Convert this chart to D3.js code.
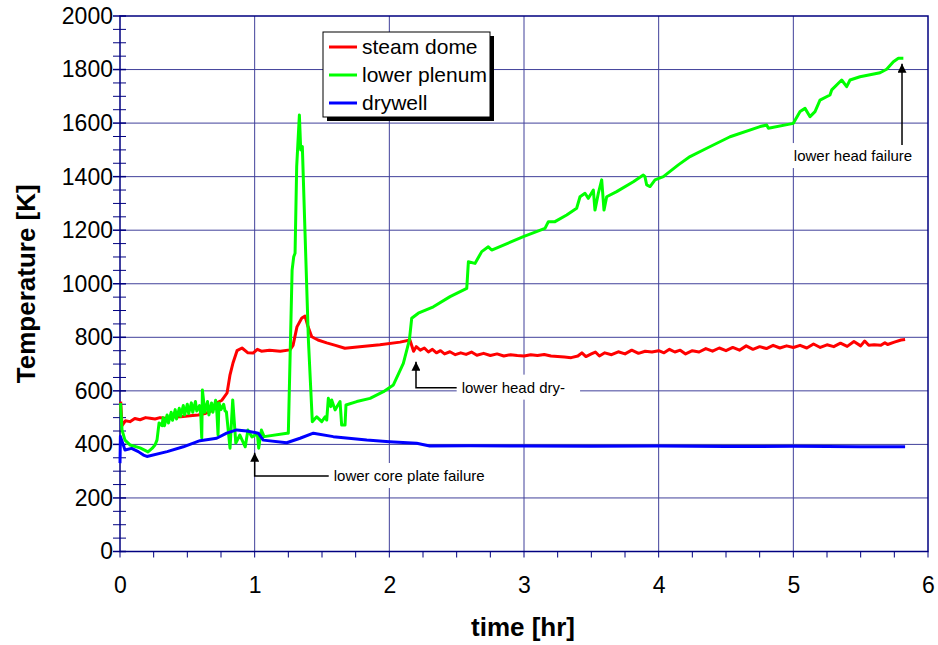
<!DOCTYPE html>
<html>
<head>
<meta charset="utf-8">
<script src="https://cdn.jsdelivr.net/npm/d3@7"></script>
<style>
  body { margin: 0; background: #fff; }
  svg { font-family: "Liberation Sans", Arial, sans-serif; }
</style>
</head>
<body>
<svg id="chart" width="938" height="645"></svg>
<script>
// series: [time (hr), temperature (K)]
let steamDome = [
  [0.005, 560], [0.015, 470], [0.04, 488], [0.074, 485], [0.11, 497], [0.149, 492], [0.19, 500], [0.223, 498],
  [0.26, 495], [0.297, 500], [0.34, 498], [0.371, 502], [0.45, 503], [0.52, 507], [0.58, 510], [0.63, 515],
  [0.68, 525], [0.72, 555], [0.757, 565], [0.795, 592], [0.817, 660], [0.839, 704], [0.869, 750], [0.906, 760],
  [0.95, 742], [0.988, 741], [1.02, 755], [1.05, 748], [1.11, 752], [1.19, 748], [1.262, 753], [1.285, 770],
  [1.314, 839], [1.35, 872], [1.374, 879], [1.396, 840], [1.424, 802], [1.47, 790], [1.535, 779], [1.6, 770],
  [1.67, 759], [1.78, 765], [1.93, 772], [2.08, 782], [2.153, 790],
  [2.18, 748], [2.2, 765], [2.23, 752], [2.26, 760], [2.29, 745], [2.32, 755], [2.35, 742], [2.38, 750],
  [2.41, 738], [2.45, 746], [2.49, 735], [2.53, 742], [2.57, 736], [2.61, 745], [2.65, 733], [2.7, 740],
  [2.75, 732], [2.8, 738], [2.85, 730], [2.9, 735], [2.95, 732], [3.0, 730], [3.05, 735], [3.1, 732],
  [3.15, 736], [3.2, 730], [3.25, 728], [3.3, 726], [3.35, 724], [3.4, 730], [3.43, 742], [3.46, 728],
  [3.5, 738], [3.53, 745], [3.56, 730], [3.6, 742], [3.65, 735], [3.7, 746], [3.75, 738], [3.8, 752],
  [3.85, 740], [3.9, 748], [3.95, 745], [4.0, 750], [4.04, 742], [4.08, 755], [4.12, 745], [4.16, 752],
  [4.2, 738], [4.25, 750], [4.3, 745], [4.35, 758], [4.4, 748], [4.45, 760], [4.5, 750], [4.55, 762],
  [4.6, 752], [4.65, 768], [4.7, 755], [4.75, 765], [4.8, 758], [4.85, 770], [4.9, 760], [4.95, 768],
  [5.0, 762], [5.05, 770], [5.1, 760], [5.15, 775], [5.2, 762], [5.25, 772], [5.3, 765], [5.35, 778],
  [5.4, 766], [5.45, 784], [5.5, 768], [5.53, 786], [5.56, 770], [5.6, 772], [5.65, 770], [5.68, 780],
  [5.7, 773], [5.75, 782], [5.8, 790], [5.83, 792]
];

let lowerPlenum = [
  [0.004, 554], [0.015, 454], [0.037, 416], [0.074, 398], [0.149, 387], [0.208, 372], [0.238, 385],
  [0.26, 398], [0.275, 417], [0.29, 480], [0.312, 470], [0.32, 500], [0.33, 470], [0.35, 510], [0.36, 480],
  [0.38, 520], [0.39, 490], [0.41, 530], [0.42, 495], [0.44, 535], [0.45, 505], [0.47, 545], [0.48, 510],
  [0.5, 550], [0.51, 515], [0.53, 555], [0.54, 520], [0.56, 560], [0.57, 525], [0.59, 545], [0.6, 510],
  [0.607, 424], [0.612, 603], [0.63, 520], [0.65, 560], [0.66, 510], [0.68, 555], [0.69, 520], [0.71, 565],
  [0.72, 515], [0.728, 435], [0.735, 555], [0.75, 530], [0.77, 550], [0.78, 525], [0.79, 522], [0.817, 386],
  [0.837, 566], [0.86, 405], [0.89, 435], [0.93, 391], [0.95, 454], [0.98, 428], [1.02, 440], [1.03, 386],
  [1.05, 454], [1.07, 429], [1.24, 442], [1.25, 442], [1.278, 1051], [1.29, 1101], [1.3, 1114], [1.312, 1437],
  [1.332, 1630], [1.342, 1500], [1.354, 1512], [1.374, 1189], [1.399, 790], [1.428, 485], [1.461, 503],
  [1.498, 485], [1.523, 503], [1.535, 491], [1.547, 572], [1.565, 541], [1.572, 566], [1.597, 529],
  [1.634, 560], [1.646, 472], [1.671, 472], [1.678, 547], [1.758, 560], [1.857, 572], [1.956, 597],
  [2.03, 622], [2.104, 703], [2.149, 790], [2.166, 871], [2.215, 890], [2.327, 914], [2.451, 952],
  [2.575, 983], [2.587, 1082], [2.636, 1076], [2.686, 1120], [2.735, 1138], [2.76, 1126], [2.995, 1176],
  [3.156, 1207], [3.181, 1232], [3.23, 1232], [3.317, 1257], [3.391, 1282], [3.416, 1325], [3.453, 1338],
  [3.478, 1319], [3.515, 1350], [3.527, 1275], [3.552, 1338], [3.577, 1388], [3.594, 1275], [3.614, 1325],
  [3.688, 1344], [3.812, 1381], [3.886, 1406], [3.898, 1400], [3.911, 1369], [3.936, 1363], [3.973, 1388],
  [4.035, 1400], [4.146, 1444], [4.233, 1475], [4.357, 1506], [4.53, 1549], [4.753, 1587], [4.802, 1593],
  [4.815, 1581], [5.0, 1599], [5.05, 1643], [5.087, 1655], [5.124, 1624], [5.161, 1643], [5.198, 1686],
  [5.272, 1705], [5.285, 1724], [5.359, 1761], [5.396, 1736], [5.421, 1761], [5.495, 1773], [5.644, 1788],
  [5.693, 1801], [5.743, 1829], [5.78, 1842], [5.817, 1842]
];

let drywell = [
  [0, 330], [0.003, 430], [0.037, 379], [0.086, 385], [0.136, 373], [0.174, 360], [0.2, 355], [0.35, 373],
  [0.47, 391], [0.594, 414], [0.718, 423], [0.792, 442], [0.866, 454], [0.94, 450], [1.027, 442],
  [1.064, 416], [1.238, 406], [1.337, 423], [1.436, 442], [1.584, 429], [1.832, 416], [2.0, 410],
  [2.203, 404], [2.3, 394], [2.6, 395], [3.0, 394], [3.5, 393], [4.0, 394], [4.5, 392], [5.0, 393],
  [5.5, 391], [5.83, 391]
];

let seriesNames = ['steam dome', 'lower plenum', 'drywell'];
let seriesColors = ['#ff0000', '#00ff00', '#0000ff'];

let xTicks = [0, 1, 2, 3, 4, 5, 6];
let yTicks = [0, 200, 400, 600, 800, 1000, 1200, 1400, 1600, 1800, 2000];

// annotations: arrow at t, tip value, base value, elbow end t, label
let notes = [
  { t: 1.0, tip: 369, base: 282, end: 1.55, text: 'lower core plate failure' },
  { t: 2.198, tip: 709, base: 612, end: 2.5, text: 'lower head dry-' },
  { t: 5.807, tip: 1822, base: 1518, end: null, text: 'lower head failure' }
];

let svg = d3.select('#chart');
let mLeft = 120, mRight = 928, mTop = 16, mBottom = 551.5;

let x = d3.scaleLinear().domain([0, 6]).range([mLeft, mRight]);
let y = d3.scaleLinear().domain([0, 2000]).range([mBottom, mTop]);

let gridColor = '#40409a';
let axisColor = '#000080';

// grid
svg.append('g').selectAll('line').data(yTicks.slice(1, -1)).enter()
    .append('line')
    .attr('x1', mLeft).attr('x2', mRight)
    .attr('y1', d => y(d)).attr('y2', d => y(d))
    .attr('stroke', gridColor).attr('stroke-width', 1);
svg.append('g').selectAll('line').data(xTicks.slice(1, -1)).enter()
    .append('line')
    .attr('y1', mTop).attr('y2', mBottom)
    .attr('x1', d => x(d)).attr('x2', d => x(d))
    .attr('stroke', gridColor).attr('stroke-width', 1);

// annotation label boxes (hide grid behind text)
let noteG = svg.append('g');

// y axis: ticks cross the axis line
let yAxis = d3.axisLeft(y).tickValues(yTicks).tickSize(0).tickPadding(7).tickFormat(d3.format('d'));
let yg = svg.append('g').attr('transform', `translate(${mLeft},0)`).call(yAxis);
yg.select('.domain').remove();
yg.selectAll('text').attr('font-size', 23).attr('fill', '#000')
    .attr('font-family', '"Liberation Sans", Arial, sans-serif');
let yMinor = d3.range(0, 2001, 50);
svg.append('g').selectAll('line').data(yMinor).enter()
    .append('line')
    .attr('x1', mLeft - 7).attr('x2', mLeft + 6)
    .attr('y1', d => y(d)).attr('y2', d => y(d))
    .attr('stroke', axisColor).attr('stroke-width', d => d % 200 == 0 ? 1.5 : 1);

// x axis
let xAxis = d3.axisBottom(x).tickValues(xTicks).tickSize(0).tickPadding(25).tickFormat(d3.format('d'));
let xg = svg.append('g').attr('transform', `translate(0,${mBottom})`).call(xAxis);
xg.select('.domain').remove();
xg.selectAll('text').attr('font-size', 23).attr('fill', '#000')
    .attr('font-family', '"Liberation Sans", Arial, sans-serif');
let xMinor = d3.range(0, 6.01, 0.25);
svg.append('g').selectAll('line').data(xMinor).enter()
    .append('line')
    .attr('x1', d => x(d)).attr('x2', d => x(d))
    .attr('y1', mBottom).attr('y2', mBottom + 6)
    .attr('stroke', axisColor).attr('stroke-width', 1);

// plot frame
svg.append('rect')
    .attr('x', mLeft).attr('y', mTop)
    .attr('width', mRight - mLeft).attr('height', mBottom - mTop)
    .attr('fill', 'none').attr('stroke', axisColor).attr('stroke-width', 1.5);

// axis titles
svg.append('text')
    .attr('x', 523).attr('y', 636)
    .attr('text-anchor', 'middle').attr('font-size', 26).attr('font-weight', 'bold')
    .text('time [hr]');
svg.append('text')
    .attr('transform', `translate(35,${(mTop + mBottom) / 2}) rotate(-90)`)
    .attr('text-anchor', 'middle').attr('font-size', 26).attr('font-weight', 'bold')
    .text('Temperature [K]');

// lines
let line = d3.line().x(d => x(d[0])).y(d => y(d[1]));
let allSeries = [steamDome, lowerPlenum, drywell];
svg.append('g').selectAll('path').data(allSeries).enter()
    .append('path')
    .attr('d', d => line(d))
    .attr('fill', 'none')
    .attr('stroke', (d, i) => seriesColors[i])
    .attr('stroke-width', 3)
    .attr('stroke-linejoin', 'round');

// annotations
svg.append('defs').append('marker')
    .attr('id', 'arrow').attr('viewBox', '0 0 10 10')
    .attr('refX', 10).attr('refY', 5)
    .attr('markerWidth', 11).attr('markerHeight', 9)
    .attr('markerUnits', 'userSpaceOnUse')
    .attr('orient', 'auto')
    .append('path').attr('d', 'M0,0 L10,5 L0,10 z').attr('fill', '#000');

notes.forEach(n => {
    let pts = [];
    if (n.end != null) pts.push([x(n.end), y(n.base)]);
    pts.push([x(n.t), y(n.base)]);
    pts.push([x(n.t), y(n.tip)]);
    let g = svg.append('g');
    let txt;
    if (n.end != null) {
        txt = g.append('text').attr('x', x(n.end) + 5).attr('y', y(n.base) + 5)
            .attr('font-size', 15).text(n.text);
    } else {
        txt = g.append('text').attr('x', x(n.t) - 49).attr('y', y(n.base) + 16)
            .attr('text-anchor', 'middle').attr('font-size', 15).text(n.text);
    }
    let bb = txt.node().getBBox();
    noteG.append('rect')
        .attr('x', bb.x - 5).attr('y', bb.y - 4)
        .attr('width', bb.width + 20).attr('height', bb.height + 8)
        .attr('fill', '#fff');
    g.append('path')
        .attr('d', d3.line()(pts))
        .attr('fill', 'none').attr('stroke', '#000').attr('stroke-width', 1.5)
        .attr('marker-end', 'url(#arrow)');
});

// legend
let lg = svg.append('g').attr('transform', 'translate(323,32)');
lg.append('rect').attr('x', 4).attr('y', 4).attr('width', 167).attr('height', 85).attr('fill', '#000');
lg.append('rect').attr('x', 0).attr('y', 0).attr('width', 167).attr('height', 85)
    .attr('fill', '#fff').attr('stroke', '#000').attr('stroke-width', 1);
let items = lg.selectAll('g.item').data(seriesNames).enter()
    .append('g').attr('class', 'item')
    .attr('transform', (d, i) => `translate(0,${15 + i * 28})`);
items.append('line')
    .attr('x1', 6).attr('x2', 34).attr('y1', 0).attr('y2', 0)
    .attr('stroke', (d, i) => seriesColors[i]).attr('stroke-width', 3);
items.append('text')
    .attr('x', 39).attr('y', 7)
    .attr('font-size', 21)
    .text(d => d);
</script>
</body>
</html>
